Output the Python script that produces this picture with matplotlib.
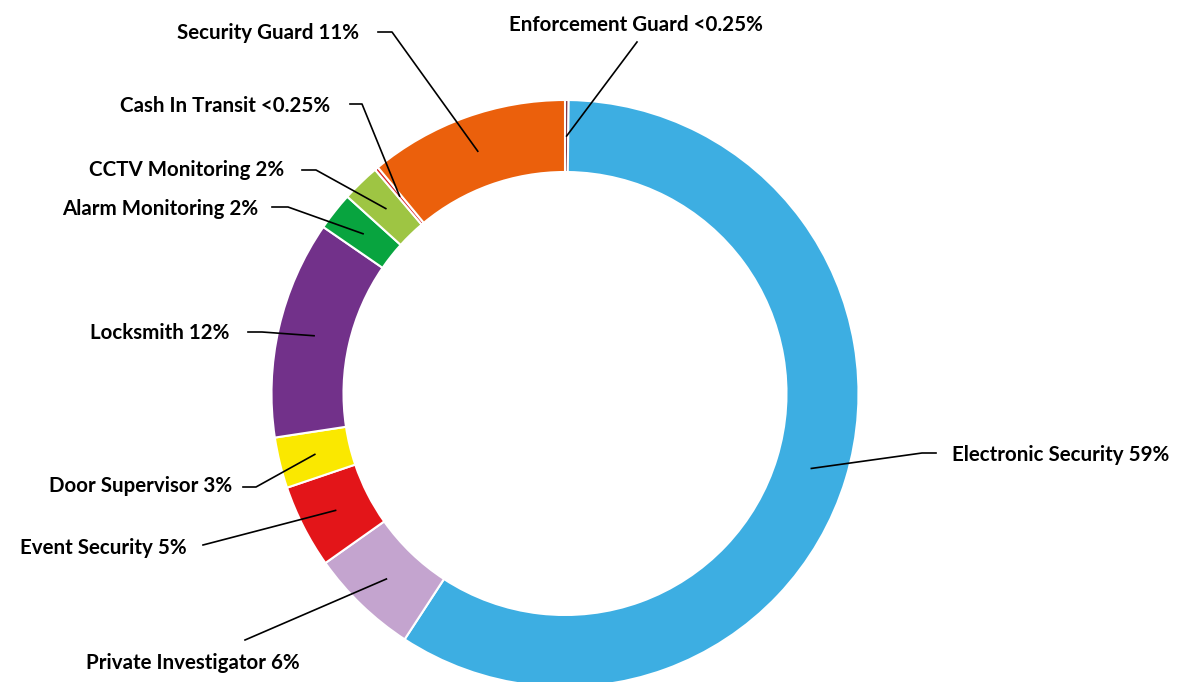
import numpy as np
import matplotlib
matplotlib.use("Agg")
from matplotlib import pyplot as plt

# Shares (%), clockwise from the top of the ring
sectors = ["Enforcement Guard", "Electronic Security", "Private Investigator",
           "Event Security", "Door Supervisor", "Locksmith", "Alarm Monitoring",
           "CCTV Monitoring", "Cash In Transit", "Security Guard"]
shares = [0.2, 59.0, 6.0, 4.6, 2.8, 12.0, 2.1, 2.1, 0.2, 11.0]
share_labels = ["<0.25%", "59%", "6%", "5%", "3%", "12%", "2%", "2%", "<0.25%", "11%"]
colors = ["#7A2A3A", "#3DAEE2", "#C4A4CF", "#E31519", "#FAE800", "#72318A",
          "#08A43F", "#9EC543", "#D7282F", "#EB600C"]

# label layout in pixel coords: (text x, text y, align, line start, elbow)
layout = {
    "Enforcement Guard": (636, 25, "center", (637, 42), None),
    "Electronic Security": (952, 455, "left", (936, 453), (922, 453)),
    "Private Investigator": (193, 663, "center", (245, 640), None),
    "Event Security": (187, 548, "right", (203, 545), None),
    "Door Supervisor": (232, 486, "right", (243, 487), (256, 487)),
    "Locksmith": (229, 333, "right", (248, 332), (262, 332)),
    "Alarm Monitoring": (258, 209, "right", (272, 207), (288, 207)),
    "CCTV Monitoring": (284, 170, "right", (302, 170), (316, 170)),
    "Cash In Transit": (330, 106, "right", (350, 104), (362, 104)),
    "Security Guard": (359, 33, "right", (378, 32), (392, 32)),
}

W, H = 1185, 682
fig = plt.figure(figsize=(W / 100, H / 100), dpi=100)
ax = fig.add_axes([0, 0, 1, 1])

cx, cy = 565, H - 393.5
R, ring = 293.5, 72
wedges, _ = ax.pie(shares, colors=colors, startangle=90, counterclock=False,
                   radius=R, center=(cx, cy),
                   wedgeprops=dict(width=ring, edgecolor="white", linewidth=1.5))

rmid = R - ring / 2
for w, name, pct in zip(wedges, sectors, share_labels):
    ang = np.deg2rad((w.theta1 + w.theta2) / 2)
    px, py = cx + rmid * np.cos(ang), cy + rmid * np.sin(ang)
    tx, ty, ha, start, elbow = layout[name]
    pts = [start] + ([elbow] if elbow else [])
    xs = [p[0] for p in pts] + [px]
    ys = [H - p[1] for p in pts] + [py]
    ax.plot(xs, ys, color="black", lw=1.2)
    ax.text(tx, H - ty, f"{name} {pct}", ha=ha, va="center",
            fontsize=14.8, fontweight="bold", family="Lato")

ax.set_xlim(0, W)
ax.set_ylim(0, H)
ax.set_aspect("equal")
ax.axis("off")

fig.savefig("out.png", dpi=100)
